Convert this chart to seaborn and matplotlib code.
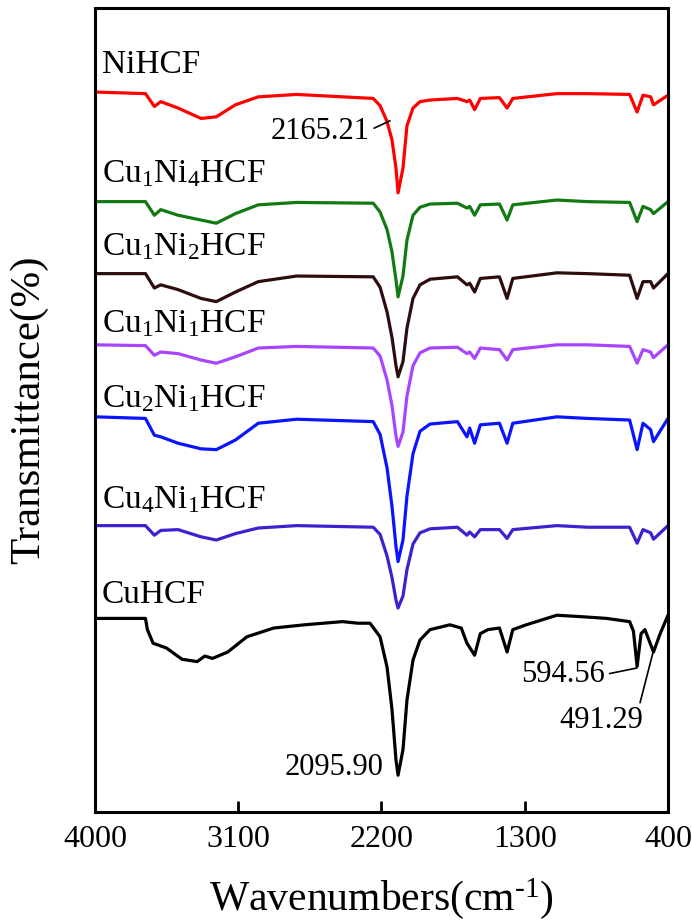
import matplotlib
matplotlib.use("Agg")
import pandas as pd
import matplotlib.pyplot as plt
import seaborn as sns

# wavenumber grid shared by the six mixed samples (cm-1)
wn = [4000, 3683, 3627, 3587, 3478, 3334, 3238, 3118, 2974, 2733, 2252, 2209,
      2165, 2134, 2109, 2096, 2065, 2040, 2002, 1958, 1895, 1723, 1663, 1646,
      1615, 1579, 1459, 1411, 1375, 1098, 906, 641, 594, 557, 509, 491, 400]

# stacked transmittance (a.u.)
ni_hcf = [90.0, 89.8, 88.2, 88.8, 88.0, 86.7, 86.9, 88.4, 89.4, 89.7, 89.2, 88.3,
          86.3, 84.0, 80.5, 77.4, 80.5, 85.8, 88.0, 88.8, 89.0, 89.2, 88.8, 89.0,
          87.8, 89.2, 89.3, 88.0, 89.2, 89.8, 89.8, 89.7, 87.5, 89.6, 89.4, 88.4, 89.6]
cu1ni4 = [76.3, 76.3, 74.6, 75.3, 74.6, 74.0, 73.6, 74.8, 75.9, 76.2, 76.1, 75.0,
          72.8, 70.0, 66.5, 64.4, 67.0, 71.5, 74.6, 75.6, 76.0, 76.1, 75.5, 75.7,
          74.6, 75.9, 76.0, 74.0, 75.9, 76.5, 76.3, 76.2, 73.8, 75.7, 75.3, 74.8, 76.3]
cu1ni2 = [67.3, 67.3, 65.5, 65.9, 65.3, 64.2, 63.8, 65.0, 66.3, 67.0, 66.9, 65.6,
          62.5, 59.3, 55.8, 54.4, 56.3, 60.5, 64.2, 65.9, 66.6, 66.9, 65.9, 66.1,
          65.0, 66.7, 66.9, 64.2, 66.7, 67.4, 67.3, 67.1, 64.2, 66.3, 66.3, 65.5, 67.3]
cu1ni1 = [58.4, 58.3, 57.1, 57.5, 57.3, 56.5, 56.1, 56.9, 58.0, 58.2, 58.0, 57.0,
          54.0, 50.8, 47.0, 45.7, 47.5, 52.0, 55.8, 57.4, 58.0, 58.1, 57.3, 57.5,
          56.7, 58.0, 57.8, 56.5, 57.8, 58.4, 58.4, 58.2, 56.1, 57.8, 57.5, 56.8, 58.4]
cu2ni1 = [49.4, 49.2, 47.1, 46.9, 46.1, 45.4, 45.3, 46.5, 48.6, 49.1, 48.8, 47.2,
          43.0, 38.2, 33.2, 31.3, 34.0, 39.5, 44.8, 47.6, 48.5, 48.8, 46.9, 48.0,
          46.1, 48.4, 48.6, 46.1, 48.6, 49.4, 49.2, 49.0, 45.3, 48.6, 47.8, 46.3, 49.2]
cu4ni1 = [35.8, 35.8, 34.6, 35.2, 35.3, 34.4, 34.0, 34.8, 35.5, 35.8, 35.6, 34.7,
          32.0, 29.3, 26.5, 25.5, 27.0, 30.3, 33.5, 34.9, 35.4, 35.6, 34.6, 35.0,
          34.4, 35.3, 35.3, 34.2, 35.3, 35.8, 35.6, 35.6, 33.6, 35.3, 34.9, 34.1, 35.8]

# CuHCF has more structure, own grid
wn_cu = [4000, 3683, 3671, 3635, 3551, 3454, 3358, 3310, 3262, 3166, 3046, 2877,
         2685, 2445, 2348, 2272, 2209, 2165, 2134, 2109, 2096, 2065, 2040, 2002,
         1958, 1895, 1770, 1699, 1663, 1615, 1579, 1531, 1459, 1411, 1375, 1291,
         1098, 930, 786, 641, 617, 594, 569, 545, 491, 449, 400]
cu_hcf = [24.2, 24.2, 22.8, 21.1, 20.5, 19.1, 18.8, 19.5, 19.2, 20.0, 21.9, 23.0,
          23.4, 23.8, 23.6, 23.6, 21.9, 18.1, 12.8, 6.5, 4.6, 7.8, 14.0, 19.0,
          21.5, 22.8, 23.4, 23.0, 21.1, 19.6, 22.3, 22.8, 23.0, 20.0, 22.8, 23.4,
          24.6, 24.4, 24.2, 23.8, 22.6, 18.2, 22.3, 22.8, 20.0, 22.3, 24.6]

names = ["NiHCF", "Cu1Ni4HCF", "Cu1Ni2HCF", "Cu1Ni1HCF", "Cu2Ni1HCF", "Cu4Ni1HCF", "CuHCF"]
labels = ["NiHCF", "Cu$_1$Ni$_4$HCF", "Cu$_1$Ni$_2$HCF", "Cu$_1$Ni$_1$HCF",
          "Cu$_2$Ni$_1$HCF", "Cu$_4$Ni$_1$HCF", "CuHCF"]
label_y = [92.4, 78.75, 69.6, 60.0, 50.6, 38.0, 26.1]
colors = ["#ff0000", "#127a12", "#2d0d0d", "#a845ff", "#0a14ff", "#3a22d0", "#000000"]

rows = []
for name, vals in zip(names[:6], [ni_hcf, cu1ni4, cu1ni2, cu1ni1, cu2ni1, cu4ni1]):
    rows += [(name, x, y) for x, y in zip(wn, vals)]
rows += [("CuHCF", x, y) for x, y in zip(wn_cu, cu_hcf)]
df = pd.DataFrame(rows, columns=["sample", "wn", "T"])

sns.set_theme(style="ticks")
plt.rcParams["font.family"] = ["Liberation Serif", "DejaVu Serif"]
plt.rcParams["mathtext.fontset"] = "custom"
plt.rcParams["mathtext.rm"] = "Liberation Serif"
plt.rcParams["mathtext.default"] = "regular"
plt.rcParams["text.color"] = "black"
plt.rcParams["axes.labelcolor"] = "black"
plt.rcParams["xtick.color"] = "black"
plt.rcParams["xtick.labelcolor"] = "black"

fig = plt.figure(figsize=(6.92, 9.24), dpi=100)
ax = fig.add_axes([0.1373, 0.1212, 0.828, 0.8701])

sns.lineplot(data=df, x="wn", y="T", hue="sample", hue_order=names,
             palette=dict(zip(names, colors)), estimator=None, sort=False,
             linewidth=2.3, legend=False, ax=ax)

for lab, y in zip(labels, label_y):
    ax.text(3956, y, lab, fontsize=24, va="baseline", ha="left", color="black")

ax.annotate("2165.21", xy=(2147, 86.4), xytext=(2275, 84.1), fontsize=22,
            ha="right", va="baseline",
            arrowprops=dict(arrowstyle="-", color="black", lw=1.2,
                            shrinkA=1, shrinkB=0, relpos=(1.0, 0.55)))
ax.text(2185, 4.6, "2095.90", fontsize=22, ha="right", va="baseline")
ax.annotate("594.56", xy=(596, 18.0), xytext=(796, 16.25), fontsize=22,
            ha="right", va="baseline",
            arrowprops=dict(arrowstyle="-", color="black", lw=1.2,
                            shrinkA=1, shrinkB=0, relpos=(1.0, 0.5)))
ax.annotate("491.29", xy=(491, 20.2), xytext=(818, 10.5), fontsize=22,
            ha="center", va="baseline",
            arrowprops=dict(arrowstyle="-", color="black", lw=1.2,
                            shrinkA=0, shrinkB=0, relpos=(0.95, 1.0)))

ax.set_xlim(4000, 400)
ax.set_ylim(0, 100.5)
ax.set_xticks([4000, 3100, 2200, 1300, 400])
ax.set_yticks([])
ax.tick_params(axis="x", direction="in", length=8, width=2, labelsize=23, pad=9,
               colors="black")
for s in ax.spines.values():
    s.set_visible(True)
    s.set_linewidth(2.2)
    s.set_color("black")
ax.set_xlabel("Wavenumbers(cm$^{\u2010 1}$)", fontsize=30, labelpad=16, color="black")
ax.set_ylabel("Transmittance(%)", fontsize=31, labelpad=34, color="black")

fig.savefig("out.png", dpi=100)
